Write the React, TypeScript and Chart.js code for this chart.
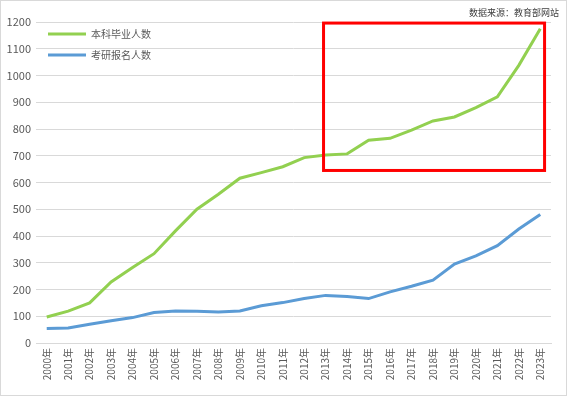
import React, { useEffect, useRef } from "react";
import { Chart, registerables } from "chart.js";

Chart.register(...registerables);

const years = [
  "2000年","2001年","2002年","2003年","2004年","2005年","2006年","2007年",
  "2008年","2009年","2010年","2011年","2012年","2013年","2014年","2015年",
  "2016年","2017年","2018年","2019年","2020年","2021年","2022年","2023年",
];
const undergrad = [
  97, 119, 150, 228, 282, 334, 419, 500, 556, 616, 637, 659, 693, 703,
  707, 758, 765, 796, 830, 845, 880, 920, 1038, 1175,
];
const kaoyan = [
  54, 56, 70, 83, 95, 114, 120, 119, 116, 120, 139, 151, 166, 178,
  174, 166, 191, 212, 235, 295, 326, 364, 426, 480,
];
const seriesNames = ["本科毕业人数", "考研报名人数"];
const seriesColors = ["#92d050", "#5b9bd5"];
const sourceText = "数据来源：教育部网站";
// highlight box in data units: [index from, index to, value from, value to]
const highlightBox = [12.9, 23.2, 645, 1196];

const FONT = "'Noto Sans CJK SC', 'Noto Sans', sans-serif";

export default function App() {
  const ref = useRef<HTMLCanvasElement | null>(null);
  useEffect(() => {
    document.body.style.margin = "0";
    const overlay = {
      id: "overlay",
      afterDatasetsDraw(chart: any) {
        const ctx = chart.ctx;
        const xs = chart.scales.x;
        const ys = chart.scales.y;
        const x1 = xs.getPixelForValue(highlightBox[0]);
        const x2 = xs.getPixelForValue(highlightBox[1]);
        const y1 = ys.getPixelForValue(highlightBox[3]);
        const y2 = ys.getPixelForValue(highlightBox[2]);
        ctx.save();
        ctx.strokeStyle = "#ff0000";
        ctx.lineWidth = 3;
        ctx.strokeRect(x1, y1, x2 - x1, y2 - y1);
        ctx.font = `10px ${FONT}`;
        ctx.textBaseline = "middle";
        ctx.textAlign = "left";
        seriesNames.forEach((n, i) => {
          const y = 34 + i * 21;
          ctx.strokeStyle = seriesColors[i];
          ctx.lineWidth = 3;
          ctx.beginPath();
          ctx.moveTo(48, y);
          ctx.lineTo(86, y);
          ctx.stroke();
          ctx.fillStyle = "#595959";
          ctx.fillText(n, 91, y);
        });
        ctx.font = `9px ${FONT}`;
        ctx.textAlign = "right";
        ctx.fillStyle = "#404040";
        ctx.fillText(sourceText, 559, 13);
        ctx.strokeStyle = "#d9d9d9";
        ctx.lineWidth = 1;
        ctx.strokeRect(0.5, 0.5, chart.width - 1, chart.height - 1);
        ctx.restore();
      },
    };
    const chart = new Chart(ref.current!, {
      type: "line",
      data: {
        labels: years,
        datasets: [
          {
            label: seriesNames[0],
            data: undergrad,
            borderColor: seriesColors[0],
            backgroundColor: seriesColors[0],
            borderWidth: 3,
            pointRadius: 0,
            tension: 0,
          },
          {
            label: seriesNames[1],
            data: kaoyan,
            borderColor: seriesColors[1],
            backgroundColor: seriesColors[1],
            borderWidth: 3,
            pointRadius: 0,
            tension: 0,
          },
        ],
      },
      options: {
        animation: false,
        responsive: false,
        layout: { padding: { left: 0, right: 16, top: 22, bottom: 0 } },
        plugins: { legend: { display: false }, tooltip: { enabled: false } },
        scales: {
          x: {
            type: "category",
            offset: true,
            grid: { display: false, drawTicks: false },
            border: { color: "#d9d9d9" },
            ticks: {
              autoSkip: false,
              maxRotation: 90,
              minRotation: 90,
              color: "#595959",
              font: { family: FONT, size: 10 },
              padding: 5,
            },
            afterFit: (s: any) => {
              s.height = 53;
            },
          },
          y: {
            min: 0,
            max: 1200,
            grid: { color: "#d9d9d9", drawTicks: false },
            border: { display: false },
            ticks: {
              stepSize: 100,
              color: "#595959",
              font: { family: FONT, size: 11 },
              padding: 5,
              callback: (v: any) => String(v),
            },
            afterFit: (s: any) => {
              s.width = 36;
            },
          },
        },
      },
      plugins: [overlay],
    });
    return () => chart.destroy();
  }, []);
  return (
    <div style={{ position: "relative", width: 567, height: 396 }}>
      <canvas ref={ref} width={567} height={396} style={{ width: 567, height: 396 }} />
    </div>
  );
}
